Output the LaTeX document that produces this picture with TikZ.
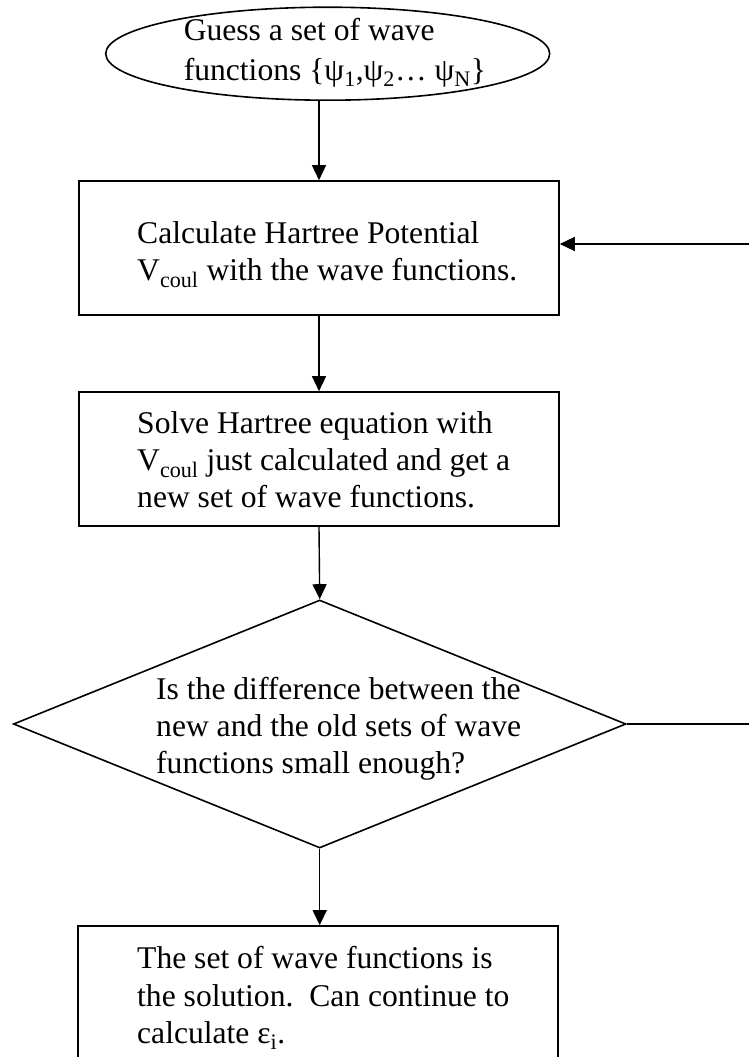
\documentclass[tikz,border=0pt]{standalone}
\usepackage{fontspec}
\setmainfont{Liberation Serif}
\usetikzlibrary{shapes.geometric,arrows.meta}
\begin{document}
\begin{tikzpicture}[x=1pt,y=-1pt,
  shp/.style={draw, line width=1.6pt, inner sep=0pt},
  stepbox/.style={shp, rectangle, minimum width=480pt, minimum height=134pt},
  txt/.style={anchor=north west, align=left, inner sep=0pt, font=\fontsize{31.6}{37}\selectfont},
  arr/.style={line width=1.4pt, -{Triangle[length=15pt,width=14pt]}}]
\useasboundingbox (0,0) rectangle (749,1057);
% shapes
\node[shp, ellipse, minimum width=444pt, minimum height=93pt] (guess) at (327.7,53.7) {};
\node[stepbox] (box1) at (319,248) {};
\node[stepbox] (box2) at (319,459) {};
\node[shp, diamond, minimum width=612.6pt, minimum height=248pt] (test) at (319.7,724) {};
\node[stepbox, minimum height=160pt] (done) at (318,1006) {};
% texts
\node[txt, font=\fontsize{31.6}{40}\selectfont] (guesst) at (183.6,18.2)
  {Guess a set of wave\\functions \{ψ\textsubscript{1},ψ\textsubscript{2}… ψ\textsubscript{N}\}};
\node[txt] (box1t) at (137,221.2)
  {Calculate Hartree Potential\\V\textsubscript{coul} with the wave functions.};
\node[txt] (box2t) at (137,411.2)
  {Solve Hartree equation with\\V\textsubscript{coul} just calculated and get a\\new set of wave functions.};
\node[txt] (testt) at (156,677.2)
  {Is the difference between the\\new and the old sets of wave\\functions small enough?};
\node[txt, font=\fontsize{31.6}{37.5}\selectfont] (donet) at (137,946.2)
  {The set of wave functions is\\the solution.\ \ Can continue to\\calculate ε\textsubscript{i}.};
% connectors
\draw[arr] (guess.south -| box1.north) -- (box1.north);
\draw[arr] (box1.south) -- (box2.north);
\draw[arr] (box2.south) -- (test.north);
\draw[arr] (test.south) -- (test.south |- done.north);
\coordinate (loopR) at (770,244);
\draw[arr] (test.east) -- (test.east -| loopR) |- ([yshift=4pt]box1.east);
\end{tikzpicture}
\end{document}
